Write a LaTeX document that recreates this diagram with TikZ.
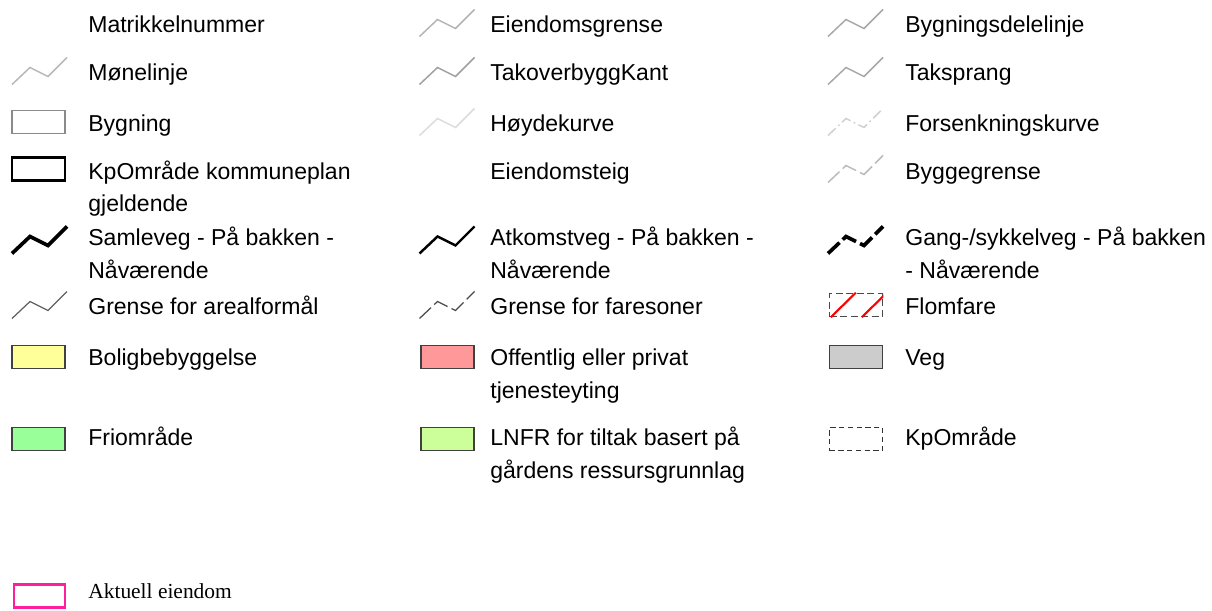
\documentclass[tikz,border=0pt]{standalone}
\usepackage{fontspec}
\setmainfont{Liberation Sans}
\newfontfamily\aktuellfont{Liberation Serif}
\usepackage{xcolor}
\definecolor{eiendomgray}{HTML}{B4B4B4}
\definecolor{delegray}{HTML}{A8A8A8}
\definecolor{monegray}{HTML}{B8B8B8}
\definecolor{takgray}{HTML}{A0A0A0}
\definecolor{hoydegray}{HTML}{DCDCDC}
\definecolor{senkgray}{HTML}{D0D0D0}
\definecolor{byggegray}{HTML}{BBBBBB}
\definecolor{arealgray}{HTML}{606060}
\definecolor{faregray}{HTML}{4A4A4A}
\definecolor{bygningedge}{HTML}{8A8A8A}
\definecolor{boxedge}{HTML}{404040}
\definecolor{boligyellow}{HTML}{FFFF99}
\definecolor{offentligred}{HTML}{FF9999}
\definecolor{veggray}{HTML}{CCCCCC}
\definecolor{frigreen}{HTML}{99FF99}
\definecolor{lnfrgreen}{HTML}{CCFF99}
\definecolor{aktuellpink}{HTML}{FF1E9B}
\newcommand{\legendfont}{\fontsize{13.1}{18.7}\selectfont}
\tikzset{%
legendtext/.style={anchor=base west,align=left,font=\legendfont,inner sep=0pt},
zigzag/.pic={\draw[pic actions] (-27.5,13.5) -- (-9.5,-3.5) -- (8.5,5.5) -- (27.5,-13.5);},
thinline/.style={draw=#1,line width=0.85pt},
roadline/.style={draw=black,line width=#1},
brokenline/.style={dash pattern=on 9pt off 2.5pt},
areabox/.style={draw=boxedge,line width=1.1pt,fill=#1,minimum width=1.06cm,minimum height=0.46cm,inner sep=0pt},
outlinebox/.style={minimum width=1.06cm,minimum height=0.46cm,inner sep=0pt},
flomline/.style={draw=red,line width=1.2pt}
}

\begin{document}
\begin{tikzpicture}[x=0.02cm,y=-0.02cm]
\useasboundingbox (0,0) rectangle (1212,611);

    % first column (two-line texts sit on their last baseline)
    \node[legendtext] (matrikkel) at (88,33) {Matrikkelnummer};
    \pic[thinline=monegray] (mone) at (39.5,71) {zigzag};
    \node[legendtext] (monetext) at (88,81) {Mønelinje};
    \node[outlinebox,draw=bygningedge,line width=0.85pt] (bygning) at (38.5,122) {};
    \node[legendtext] (bygningtext) at (88,132) {Bygning};
    \node[outlinebox,draw=black,line width=1.7pt] (kpkommune) at (38.5,169) {};
    \node[legendtext] (kpkommunetext) at (88,212) {KpOmråde kommuneplan\\gjeldende};
    \pic[roadline=2.1pt] (samleveg) at (39.5,240) {zigzag};
    \node[legendtext] (samlevegtext) at (88,278) {Samleveg - På bakken -\\Nåværende};
    \pic[thinline=arealgray,line width=0.7pt] (areal) at (39.5,305) {zigzag};
    \node[legendtext] (arealtext) at (88,314) {Grense for arealformål};
    \node[areabox=boligyellow] (bolig) at (38.5,357) {};
    \node[legendtext] (boligtext) at (88,365) {Boligbebyggelse};
    \node[areabox=frigreen] (fri) at (38.5,439) {};
    \node[legendtext] (fritext) at (88,445) {Friområde};

    % second column
    \pic[thinline=eiendomgray] (eiendom) at (447,23) {zigzag};
    \node[legendtext] (eiendomtext) at (490,33) {Eiendomsgrense};
    \pic[thinline=takgray] (takkant) at (447,71) {zigzag};
    \node[legendtext] (takkanttext) at (490,81) {TakoverbyggKant};
    \pic[thinline=hoydegray] (hoyde) at (447,122) {zigzag};
    \node[legendtext] (hoydetext) at (490,132) {Høydekurve};
    \node[legendtext] (teigtext) at (490,179) {Eiendomsteig};
    \pic[roadline=1.4pt] (atkomst) at (447,240) {zigzag};
    \node[legendtext] (atkomsttext) at (490,278) {Atkomstveg - På bakken -\\Nåværende};
    \pic[thinline=faregray,line width=0.7pt,brokenline] (fare) at (447,305) {zigzag};
    \node[legendtext] (faretext) at (490,314) {Grense for faresoner};
    \node[areabox=offentligred] (offentlig) at (447.5,357) {};
    \node[legendtext] (offentligtext) at (490,398) {Offentlig eller privat\\tjenesteyting};
    \node[areabox=lnfrgreen] (lnfr) at (447.5,439) {};
    \node[legendtext] (lnfrtext) at (490,478) {LNFR for tiltak basert på\\gårdens ressursgrunnlag};

    % third column
    \pic[thinline=delegray] (dele) at (855.5,23) {zigzag};
    \node[legendtext] (deletext) at (905,33) {Bygningsdelelinje};
    \pic[thinline=delegray] (sprang) at (855.5,71) {zigzag};
    \node[legendtext] (sprangtext) at (905,81) {Taksprang};
    \pic[thinline=senkgray,dash pattern=on 6pt off 2pt on 1pt off 2pt] (senk) at (855.5,122) {zigzag};
    \node[legendtext] (senktext) at (905,132) {Forsenkningskurve};
    \pic[thinline=byggegray,brokenline] (bygge) at (855.5,169) {zigzag};
    \node[legendtext] (byggetext) at (905,179) {Byggegrense};
    \pic[roadline=2.1pt,brokenline] (gang) at (855.5,240) {zigzag};
    \node[legendtext] (gangtext) at (905,278) {Gang-/sykkelveg - På bakken\\- Nåværende};
    \node[outlinebox,draw=faregray,line width=0.85pt,dash pattern=on 4pt off 2pt] (flom) at (856,305) {};
    \begin{scope}
      \clip (flom.south west) rectangle (flom.north east);
      \draw[flomline] ([xshift=0.04cm]flom.south west) -- ([xshift=0.54cm]flom.north west)
                      ([xshift=0.66cm]flom.south west) -- ([xshift=1.16cm]flom.north west);
    \end{scope}
    \node[legendtext] (flomtext) at (905,314) {Flomfare};
    \node[areabox=veggray] (veg) at (856,357) {};
    \node[legendtext] (vegtext) at (905,365) {Veg};
    \node[outlinebox,draw=black!80,line width=0.6pt,dash pattern=on 3pt off 2pt] (kpomrade) at (856,439) {};
    \node[legendtext] (kpomradetext) at (905,445) {KpOmråde};

    % property of interest
    \node[outlinebox,draw=aktuellpink,line width=1.7pt,minimum width=1.02cm] (aktuell) at (39.5,596) {};
    \node[legendtext,font=\aktuellfont\fontsize{12.2}{14}\selectfont] (aktuelltext) at (88,598) {Aktuell eiendom};

\end{tikzpicture}
\end{document}
